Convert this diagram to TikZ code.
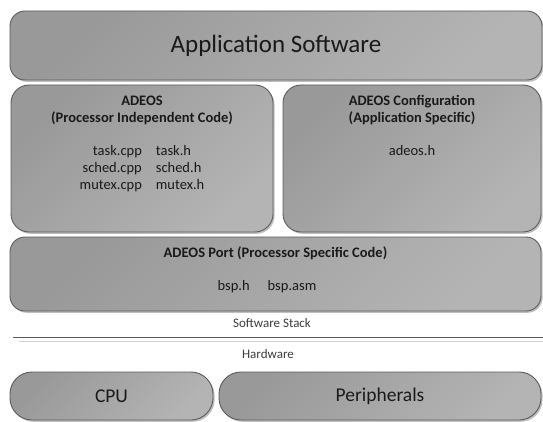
\documentclass[tikz,border=0pt]{standalone}
\usepackage{fontspec}
\setmainfont{Carlito}
\usetikzlibrary{positioning,shadows}
\definecolor{slabdk}{HTML}{999999}
\definecolor{slablt}{HTML}{B4B4B4}
\definecolor{rim}{HTML}{5C5C5C}
\definecolor{ink}{HTML}{1A1A1A}
\definecolor{rule}{HTML}{5A5A5A}
\definecolor{rulelt}{HTML}{D2D2D2}
\newcommand{\TitleF}{\fontsize{25}{29}\selectfont}
\newcommand{\BodyF}{\fontsize{14.5}{17}\selectfont}
\newcommand{\CapF}{\fontsize{13}{15}\selectfont}
\newcommand{\HwF}{\fontsize{19.5}{22}\selectfont}
\tikzset{
  slab/.style={rounded corners=15pt, draw=rim, line width=0.9pt, inner sep=0pt,
               top color=slabdk, bottom color=slablt, shading angle=45,
               drop shadow={shadow xshift=1.6pt, shadow yshift=-1.8pt, fill=black, opacity=0.25},
               text=ink},
  pillslab/.style={slab, rounded corners=22pt, font=\HwF},
  head/.style={inner sep=0pt, align=center, font=\BodyF\bfseries, text=ink},
  files/.style={inner sep=0pt, font=\BodyF, text=ink},
  captext/.style={inner sep=0pt, font=\CapF, text=ink!85},
}

\begin{document}
\begin{tikzpicture}[x=1pt,y=1pt]
  \useasboundingbox (0,0) rectangle (543,-422);
  % software stack
  \node[slab, minimum width=532pt, minimum height=69pt, font=\TitleF] (app) at (276,-45.5) {Application Software};
  \node[slab, rounded corners=18pt, minimum width=262pt, minimum height=147pt] (core) at (142,-158.5) {};
  \node[slab, rounded corners=18pt, minimum width=258pt, minimum height=147pt] (conf) at (412,-158.5) {};
  \node[slab, minimum width=531pt, minimum height=74pt] (port) at (275.5,-274) {};

  \node[head, below=11pt of core.north] (corehd) {ADEOS\\(Processor Independent Code)};
  \node[files, below=19pt of corehd] (corefl) {%
    \begin{tabular}{@{}r@{\hspace{14pt}}l@{}}
      task.cpp & task.h\\
      sched.cpp & sched.h\\
      mutex.cpp & mutex.h
    \end{tabular}};
  \node[head, below=11pt of conf.north] (confhd) {ADEOS Configuration\\(Application Specific)};
  \node[files, below=20pt of confhd] (confl) {adeos.h};
  \node[head, below=10pt of port.north] (porthd) {ADEOS Port (Processor Specific Code)};
  \node[files] (portfl) at (267,-287) {bsp.h\hspace{18pt}bsp.asm};

  % divider
  \node[captext] (sw) at (272,-323) {Software Stack};
  \coordinate (ruleL) at (13,-337.5);
  \coordinate (ruleR) at (543,-337.5);
  \coordinate (ruleLb) at (19,-341);
  \coordinate (ruleRb) at (543,-341);
  \draw[rule, line width=1pt] (ruleL) -- (ruleR);
  \draw[rulelt, line width=1pt] (ruleLb) -- (ruleRb);
  \node[captext] (hw) at (268,-354) {Hardware};

  % hardware
  \node[pillslab, minimum width=203pt, minimum height=48pt] (cpu) at (111.5,-396) {CPU};
  \node[pillslab, minimum width=322pt, minimum height=48pt] (peri) at (380,-396) {Peripherals};
\end{tikzpicture}
\end{document}
